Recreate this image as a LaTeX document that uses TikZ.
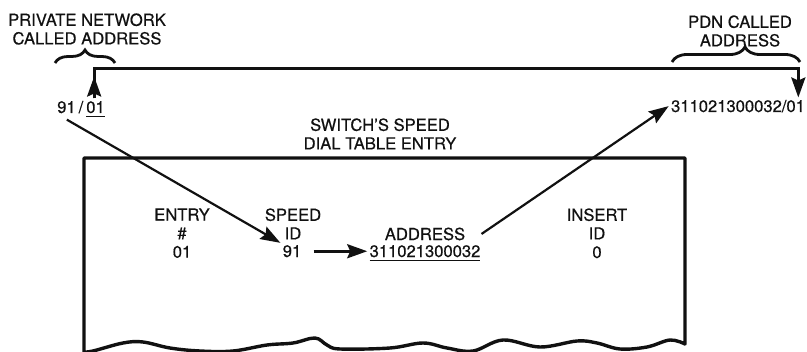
\documentclass[tikz,border=0pt]{standalone}
\usepackage{fontspec}
\setmainfont{TeX Gyre Heros}[FakeBold=0.5]
\usetikzlibrary{arrows.meta,positioning,calc,decorations.pathreplacing}
\def\wLight{1.1pt}
\def\wRegular{1.4pt}
\def\wStrong{1.7pt}
\definecolor{cInk}{HTML}{111111}
\tikzset{
  dial/.style={font=\fontsize{8.3}{9.3}\selectfont, every node/.style={align=center, inner sep=1pt, text=cInk}},
  lbl/.style={anchor=north},
  val/.style={anchor=base},
  frame/.style={draw=cInk, line width=\wStrong, line join=round},
  rail/.style={draw=cInk, line width=\wRegular},
  link/.style={draw=cInk, line width=\wLight},
  tip/.style={-{Stealth[length=10pt, width=7pt, inset=1.5pt]}},
  grp/.style={draw=cInk, line width=\wRegular, decorate, decoration={brace, amplitude=#1}},
}

\begin{document}
\begin{tikzpicture}[dial, x=0.5pt, y=-0.5pt]
% pixel grid of the reference, y runs down
\useasboundingbox (0,0) rectangle (807,352);

% ---- the two addresses on top
\node[lbl] (prvlbl) at (87,11)  {PRIVATE NETWORK\\CALLED ADDRESS};
\node[lbl] (pdnlbl) at (740,13) {PDN CALLED\\ADDRESS};
\draw[grp=6.5pt] (55,63) -- (115,63);
\draw[grp=7.5pt, decoration={aspect=0.57}] (672,62) -- (800,62);
\node[val] (prv) at (81,113)  {91\kern1.5pt/\kern1.5pt\underline{01}};
\node[val] (pdn) at (738,112) {311021300032/01};

% ---- speed dial table entry
\node[lbl] (title) at (380,116) {SWITCH'S SPEED\\DIAL TABLE ENTRY};
\draw[frame] (84,352) -- (84,158) -- (685,158) -- (685,344)
  -- plot[smooth, tension=0.6] coordinates {(685,344) (670,340) (647,347) (620,349) (597,343) (577,341)
     (540,347) (503,340) (473,351) (447,348) (423,343) (390,348) (340,349) (327,345) (315,338) (293,343)
     (267,345) (233,351) (200,351) (170,348) (143,342) (123,343) (93,351) (84,352)} -- cycle;
\node[lbl] (entry)  at (182,206) {ENTRY\\\#\\01};
\node[lbl] (spdhd)  at (293,206) {SPEED\\ID};
\node[val] (spdval) at (292,257) {91};
\node[val] (adrhd)  at (425,240) {ADDRESS};
\node[val] (adrval) at (425,257) {\underline{311021300032}};
\node[lbl] (insert) at (597,206) {INSERT\\ID\\0};

% ---- flows
\coordinate (prvtop) at ([xshift=-6.5pt]prv.north east);
\coordinate (pdntop) at ([xshift=-4.5pt]pdn.north east);
\path (prvtop) ++(0,-30) coordinate (railL);
\draw[rail, tip] (prvtop) -- (railL) -| (pdntop);
\draw[rail, tip] (prvtop) -- ++(0,-22);
\draw[link, tip] ([xshift=6pt]prv.south west) -- (spdval.north west);
\draw[rail, tip, shorten <=5pt] (spdval.east) -- (spdval.east -| adrval.west);
\draw[link, tip] ($(adrhd.east)+(14,0)$) -- (pdn.west);
\end{tikzpicture}
\end{document}
